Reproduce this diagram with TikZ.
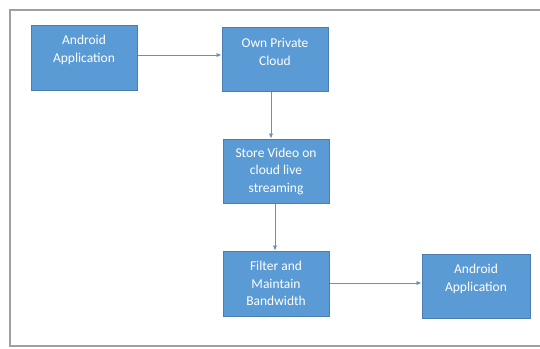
\documentclass[tikz,border=0pt]{standalone}
\usepackage{fontspec}
\setmainfont{Carlito}
\usetikzlibrary{arrows.meta}
\definecolor{boxfill}{HTML}{5B9BD5}
\definecolor{boxline}{HTML}{4A7EB0}
\definecolor{arrcol}{HTML}{6A8FB8}
\definecolor{framecol}{HTML}{A0A0A0}
\begin{document}
\begin{tikzpicture}[x=1pt,y=-1pt,
  box/.style={draw=boxline, line width=1pt, fill=boxfill, rectangle, inner sep=0pt},
  txt/.style={text=white, align=center, inner sep=0pt, font=\fontsize{13.5}{17.5}\selectfont},
  arr/.style={draw=arrcol, line width=0.9pt, -{Latex[length=5pt,width=4.5pt]}}]
\useasboundingbox (0,0) rectangle (540,348);
\fill[white] (0,0) rectangle (540,348);
\draw[framecol, line width=1.4pt] (540,10) -- (10,10) -- (10,346) -- (540,346);
\node[box, minimum width=106pt, minimum height=65pt] (a1) at (84,57.5) {};
\node[box, minimum width=106pt, minimum height=64pt] (a2) at (275,59) {};
\node[box, minimum width=106pt, minimum height=64pt] (a3) at (276,171) {};
\node[box, minimum width=106pt, minimum height=65pt] (a4) at (276,283.5) {};
\node[box, minimum width=108pt, minimum height=64pt] (a5) at (476,286) {};
\node[txt] (t1) at ([yshift=7.5pt]a1.center) {Android\\Application};
\node[txt] (t2) at ([yshift=7pt]a2.center) {Own Private\\Cloud};
\node[txt] (t3) at (a3.center) {Store Video on\\cloud live\\streaming};
\node[txt] (t4) at (a4.center) {Filter and\\Maintain\\Bandwidth};
\node[txt] (t5) at ([yshift=7pt]a5.center) {Android\\Application};
\draw[arr] (a1.east |- 0,55) -- (a2.west |- 0,55);
\draw[arr] (a2.south -| 271,0) -- (a3.north -| 271,0);
\draw[arr] (a3.south -| 275,0) -- (a4.north -| 275,0);
\draw[arr] (a4.east |- 0,283) -- (a5.west |- 0,283);
\end{tikzpicture}
\end{document}
